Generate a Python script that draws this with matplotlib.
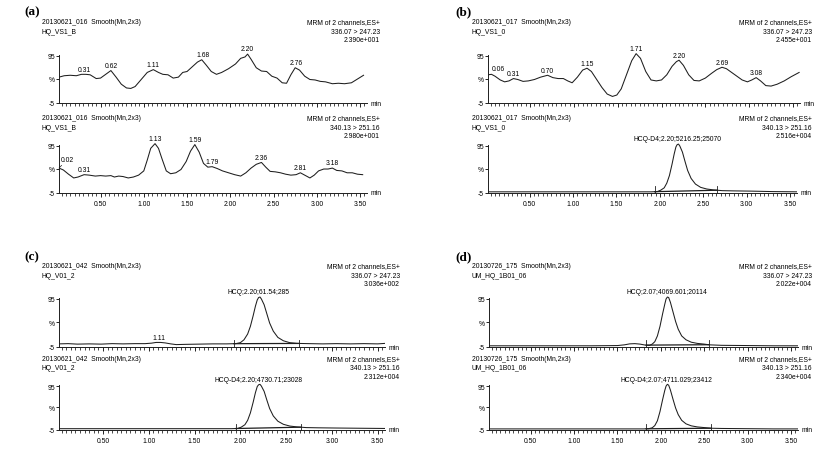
import matplotlib
matplotlib.use("Agg")
import matplotlib.pyplot as plt
import numpy as np
from matplotlib.ticker import MultipleLocator, FormatStrFormatter

W, H = 827, 456
plt.rcParams['font.family'] = ['Liberation Sans', 'DejaVu Sans']

# ---------------- data ----------------
# (a) sample 016, channel 336.07 > 247.23
a_top_t = [0.02, 0.08, 0.15, 0.22, 0.28, 0.33, 0.38, 0.45, 0.50, 0.56, 0.62, 0.68, 0.74, 0.80, 0.85,
           0.90, 0.97, 1.04, 1.11, 1.17, 1.22, 1.28, 1.34, 1.40, 1.45, 1.50, 1.56, 1.62, 1.67, 1.72,
           1.78, 1.84, 1.90, 1.98, 2.06, 2.12, 2.17, 2.20, 2.24, 2.30, 2.36, 2.42, 2.48, 2.54, 2.60,
           2.65, 2.70, 2.75, 2.80, 2.86, 2.92, 2.98, 3.04, 3.10, 3.18, 3.25, 3.32, 3.40, 3.47, 3.54]
a_top_v = [50, 53, 54, 53, 56, 56, 55, 47, 48, 56, 64, 50, 35, 27, 26,
           30, 45, 60, 66, 60, 56, 55, 48, 50, 60, 62, 72, 82, 87, 76,
           62, 56, 60, 68, 78, 90, 93, 99, 88, 70, 63, 62, 52, 48, 38,
           37, 55, 70, 65, 52, 45, 44, 41, 40, 36, 37, 36, 38, 46, 54]
a_top_peaks = [0.31, 0.62, 1.11, 1.68, 2.20, 2.76]
a_top_texts = ['0.31', '0.62', '1.11', '1.68', '2.20', '2.76']

# (a) sample 016, channel 340.13 > 251.16
a_bot_t = [0.02, 0.07, 0.13, 0.19, 0.24, 0.31, 0.37, 0.44, 0.50, 0.56, 0.62, 0.66, 0.71, 0.76, 0.82,
           0.88, 0.94, 1.00, 1.04, 1.08, 1.13, 1.17, 1.21, 1.26, 1.31, 1.37, 1.43, 1.49, 1.54, 1.59,
           1.64, 1.69, 1.74, 1.79, 1.85, 1.91, 1.98, 2.05, 2.12, 2.18, 2.24, 2.30, 2.36, 2.41, 2.46,
           2.52, 2.58, 2.64, 2.70, 2.76, 2.81, 2.86, 2.92, 2.97, 3.02, 3.08, 3.13, 3.18, 3.23, 3.29,
           3.35, 3.41, 3.47, 3.53]
a_bot_v = [48, 44, 35, 27, 29, 34, 33, 31, 32, 31, 32, 29, 31, 30, 27,
           29, 33, 42, 65, 90, 100, 90, 68, 42, 36, 38, 45, 62, 84, 98,
           82, 58, 50, 51, 47, 42, 38, 34, 31, 38, 48, 56, 60, 50, 41,
           40, 38, 35, 33, 34, 38, 33, 27, 33, 42, 46, 46, 48, 43, 42,
           38, 38, 35, 34]
a_bot_peaks = [0.02, 0.31, 1.13, 1.59, 1.79, 2.36, 2.81, 3.18]
a_bot_texts = ['0.02', '0.31', '1.13', '1.59', '1.79', '2.36', '2.81', '3.18']

# (b) sample 017, channel 336.07 > 247.23
b_top_t = [0.02, 0.06, 0.10, 0.16, 0.21, 0.26, 0.31, 0.36, 0.42, 0.48, 0.55, 0.62, 0.70, 0.76, 0.82,
           0.88, 0.93, 0.98, 1.04, 1.10, 1.15, 1.20, 1.26, 1.32, 1.38, 1.44, 1.49, 1.54, 1.60, 1.66,
           1.71, 1.76, 1.82, 1.88, 1.94, 2.00, 2.06, 2.12, 2.17, 2.20, 2.25, 2.31, 2.37, 2.43, 2.50,
           2.57, 2.63, 2.69, 2.74, 2.80, 2.86, 2.92, 2.98, 3.03, 3.08, 3.13, 3.19, 3.25, 3.32, 3.40,
           3.48, 3.57]
b_top_v = [55, 56, 52, 44, 40, 42, 47, 45, 41, 42, 45, 50, 54, 49, 47,
           47, 42, 38, 50, 65, 69, 62, 45, 28, 14, 9, 12, 25, 55, 85,
           100, 90, 62, 44, 42, 44, 55, 73, 83, 86, 75, 55, 43, 42, 48,
           58, 66, 71, 68, 60, 52, 44, 40, 44, 49, 42, 32, 31, 35, 42,
           51, 60]
b_top_peaks = [0.06, 0.31, 0.70, 1.15, 1.71, 2.20, 2.69, 3.08]
b_top_texts = ['0.06', '0.31', '0.70', '1.15', '1.71', '2.20', '2.69', '3.08']

# (b) sample 017, channel 340.13 > 251.16
b_bot_t = [0.02, 0.5, 1.0, 1.5, 1.9, 1.97, 2.01, 2.05, 2.08, 2.11, 2.14, 2.165, 2.185, 2.20, 2.215,
           2.23, 2.26, 2.29, 2.32, 2.36, 2.41, 2.47, 2.54, 2.62, 2.72, 2.85, 3.05, 3.3, 3.58]
b_bot_v = [-2.5, -2.5, -2.5, -2.5, -2.5, -2, 1, 6, 16, 32, 56, 78, 93, 98, 99,
           95, 82, 62, 43, 26, 14, 7, 3.5, 1.5, 0, -0.5, -1, -2, -2.5]
b_bot_peaks = [2.20]
b_bot_texts = ['HCQ-D4;2.20;5216.25;25070']
b_bot_marks = [1.94, 2.66]

# (c) sample 042, channel 336.07 > 247.23
c_top_t = [0.02, 0.12, 0.22, 0.35, 0.48, 0.6, 0.72, 0.85, 0.96, 1.03, 1.08, 1.13, 1.18, 1.24, 1.30,
           1.40, 1.55, 1.70, 1.85, 1.95, 2.00, 2.04, 2.08, 2.11, 2.14, 2.165, 2.185, 2.20, 2.215, 2.23,
           2.26, 2.29, 2.32, 2.36, 2.41, 2.47, 2.54, 2.62, 2.75, 2.9, 3.05, 3.2, 3.35, 3.5, 3.58]
c_top_v = [1.5, 2, 1, 1.5, 1, 2, 1.5, 2, 2, 3, 4.5, 4.5, 3.5, 1.5, 0,
           0.5, 1, 1.5, 1.5, 2, 4, 10, 22, 38, 60, 80, 93, 98, 99, 95,
           83, 64, 45, 28, 15, 8, 4, 2.5, 2, 1.5, 2, 1.5, 2, 1.5, 2.5]
c_top_peaks = [1.11, 2.20]
c_top_texts = ['1.11', 'HCQ;2.20;61.54;285']
c_top_marks = [1.93, 2.64]

# (c) sample 042, channel 340.13 > 251.16
c_bot_t = [0.02, 0.5, 1.0, 1.5, 1.9, 1.97, 2.01, 2.05, 2.08, 2.11, 2.14, 2.165, 2.185, 2.20, 2.215,
           2.23, 2.26, 2.29, 2.32, 2.36, 2.41, 2.47, 2.54, 2.62, 2.72, 2.85, 3.05, 3.3, 3.58]
c_bot_v = [-2, -2, -2, -2, -2, -1.5, 1.5, 7, 17, 34, 58, 80, 94, 98, 99,
           95, 83, 63, 44, 27, 15, 8, 4, 2, 0.5, 0, -0.5, -1, -1.5]
c_bot_peaks = [2.20]
c_bot_texts = ['HCQ-D4;2.20;4730.71;23028']
c_bot_marks = [1.95, 2.66]

# (d) sample 175, channel 336.07 > 247.23
d_top_t = [0.02, 0.4, 0.8, 1.2, 1.5, 1.58, 1.64, 1.70, 1.76, 1.82, 1.87, 1.90, 1.93, 1.96, 1.99,
           2.02, 2.045, 2.06, 2.075, 2.09, 2.11, 2.14, 2.17, 2.20, 2.24, 2.29, 2.35, 2.42, 2.50, 2.56,
           2.7, 3.0, 3.3, 3.58]
d_top_v = [-2.5, -2.5, -2.5, -2.5, -2, -0.5, 1.5, 2, 1, -1, -1.5, 1, 6, 18, 38,
           64, 84, 95, 99, 98, 88, 68, 48, 32, 18, 10, 5, 2.5, 1, -0.5,
           -1.5, -2, -2.5, -2.5]
d_top_peaks = [2.07]
d_top_texts = ['HCQ;2.07;4069.601;20114']
d_top_marks = [1.83, 2.55]

# (d) sample 175, channel 340.13 > 251.16
d_bot_t = [0.02, 0.5, 1.0, 1.5, 1.8, 1.86, 1.90, 1.93, 1.96, 1.99, 2.02, 2.045, 2.06, 2.075, 2.09,
           2.11, 2.14, 2.17, 2.20, 2.24, 2.29, 2.35, 2.42, 2.50, 2.58, 2.7, 3.0, 3.3, 3.58]
d_bot_v = [-2.5, -2.5, -2.5, -2.5, -2.5, -2, 0, 5, 16, 37, 64, 85, 95, 99, 97,
           86, 65, 45, 30, 17, 9, 4.5, 2, 0.5, -1, -1.5, -2, -2.5, -2.5]
d_bot_peaks = [2.07]
d_bot_texts = ['HCQ-D4;2.07;4711.029;23412']
d_bot_marks = [1.83, 2.58]

# header texts
a_name = ['20130621_016  Smooth(Mn,2x3)', 'HQ_VS1_B']
b_name = ['20130621_017  Smooth(Mn,2x3)', 'HQ_VS1_0']
c_name = ['20130621_042  Smooth(Mn,2x3)', 'HQ_V01_2']
d_name = ['20130726_175  Smooth(Mn,2x3)', 'UM_HQ_1B01_06']
chan_top = ['MRM of 2 channels,ES+', '336.07 > 247.23']
chan_bot = ['MRM of 2 channels,ES+', '340.13 > 251.16']
a_top_max, a_bot_max = '2.390e+001', '2.980e+001'
b_top_max, b_bot_max = '2.455e+001', '2.516e+004'
c_top_max, c_bot_max = '3.036e+002', '2.312e+004'
d_top_max, d_bot_max = '2.022e+004', '2.340e+004'

# ---------------- drawing ----------------
fig = plt.figure(figsize=(W / 100, H / 100), dpi=100)
FS = 4.9
INK = '#1e1e1e'


def add_axes(left, right, top, bottom):
    return fig.add_axes([left / W, 1 - bottom / H, (right - left) / W, (bottom - top) / H])


def ftext(x, y, s, **kw):
    fig.text(x / W, 1 - y / H, s, fontsize=FS, va='center', **kw)


def draw(ax, t, v, peaks, texts, marks=None, ticklabels=False):
    t = np.asarray(t)
    v = np.asarray(v)
    ax.plot(t, v, color=INK, lw=0.75)
    if marks:
        ax.plot(marks, [np.interp(m, t, v) for m in marks], color=INK, lw=0.9)
        for m in marks:
            ax.plot([m, m], [-6, 9], color=INK, lw=0.6, clip_on=False)
    for pt, txt in zip(peaks, texts):
        near = np.abs(t - pt) <= 0.05
        y = v[near].max() if near.any() else np.interp(pt, t, v)
        if pt < 0.05:
            ax.annotate(txt, xy=(pt, y), xytext=(1.5, 4), textcoords='offset points',
                        ha='left', va='bottom', fontsize=FS,
                        arrowprops=dict(arrowstyle='-', lw=0.5, color=INK,
                                        shrinkA=0, shrinkB=0))
        elif pt < 0.1:
            ax.annotate(txt, xy=(pt, y), xytext=(0, 1.5), textcoords='offset points',
                        ha='left', va='bottom', fontsize=FS)
        else:
            ax.annotate(txt, xy=(pt, y), xytext=(0, 1.2), textcoords='offset points',
                        ha='center', va='bottom', fontsize=FS)
    ax.set_xlim(0.02, 3.58)
    ax.set_ylim(-5, 102)
    for s in ('top', 'right'):
        ax.spines[s].set_visible(False)
    for s in ('left', 'bottom'):
        ax.spines[s].set_linewidth(0.7)
        ax.spines[s].set_color(INK)
    ax.spines['left'].set_bounds(-5, 97)
    ax.set_yticks([-5, 47, 95])
    ax.set_yticklabels(['-5', '%', '95'])
    ax.tick_params(axis='y', length=2, width=0.6, pad=1, labelsize=FS)
    ax.xaxis.set_major_locator(MultipleLocator(0.5))
    ax.xaxis.set_minor_locator(MultipleLocator(0.05))
    ax.xaxis.set_major_formatter(FormatStrFormatter('%.2f'))
    ax.tick_params(axis='x', which='major', length=3.2, width=0.6, pad=2, labelsize=FS)
    ax.tick_params(axis='x', which='minor', length=1.8, width=0.5)
    if not ticklabels:
        ax.tick_params(axis='x', labelbottom=False)
    ax.annotate('min', xy=(1, 0), xycoords='axes fraction', xytext=(2.5, 0),
                textcoords='offset points', ha='left', va='center', fontsize=FS)
    ax.patch.set_alpha(0)


def header(xl, xr, y, name, chan, vmax):
    ftext(xl, y, name[0], ha='left')
    ftext(xl, y + 9, name[1], ha='left')
    ftext(xr, y, chan[0], ha='right')
    ftext(xr, y + 9, chan[1], ha='right')
    ftext(xr, y + 18, vmax, ha='right')


# panel (a)
ax = add_axes(59, 367, 53.7, 104)
draw(ax, a_top_t, a_top_v, a_top_peaks, a_top_texts)
header(42, 380, 23, a_name, chan_top, a_top_max)
ax = add_axes(59, 367, 143.7, 194)
draw(ax, a_bot_t, a_bot_v, a_bot_peaks, a_bot_texts, ticklabels=True)
header(42, 380, 119, a_name, chan_bot, a_bot_max)

# panel (b)
ax = add_axes(488, 800, 53.7, 104)
draw(ax, b_top_t, b_top_v, b_top_peaks, b_top_texts)
header(472, 812, 23, b_name, chan_top, b_top_max)
ax = add_axes(488, 797, 143.7, 194)
draw(ax, b_bot_t, b_bot_v, b_bot_peaks, b_bot_texts, b_bot_marks, ticklabels=True)
header(472, 812, 119, b_name, chan_bot, b_bot_max)

# panel (c)
ax = add_axes(59, 385, 296.6, 348)
draw(ax, c_top_t, c_top_v, c_top_peaks, c_top_texts, c_top_marks)
header(42, 400, 267, c_name, chan_top, c_top_max)
ax = add_axes(59, 385, 384, 431)
draw(ax, c_bot_t, c_bot_v, c_bot_peaks, c_bot_texts, c_bot_marks, ticklabels=True)
header(42, 400, 360, c_name, chan_bot, c_bot_max)

# panel (d)
ax = add_axes(489, 798, 296.6, 348)
draw(ax, d_top_t, d_top_v, d_top_peaks, d_top_texts, d_top_marks)
header(472, 812, 267, d_name, chan_top, d_top_max)
ax = add_axes(489, 798, 384, 431)
draw(ax, d_bot_t, d_bot_v, d_bot_peaks, d_bot_texts, d_bot_marks, ticklabels=True)
header(472, 812, 360, d_name, chan_bot, d_bot_max)

# panel letters
for x, y, s in [(24, 12, '(a)'), (455, 12, '(b)'), (24, 257, '(c)'), (455, 257, '(d)')]:
    fig.text(x / W, 1 - y / H, s, fontsize=9.5, fontweight='bold', va='center', ha='left',
             family=['Liberation Serif', 'DejaVu Serif'])

fig.savefig('out.png', dpi=100)
